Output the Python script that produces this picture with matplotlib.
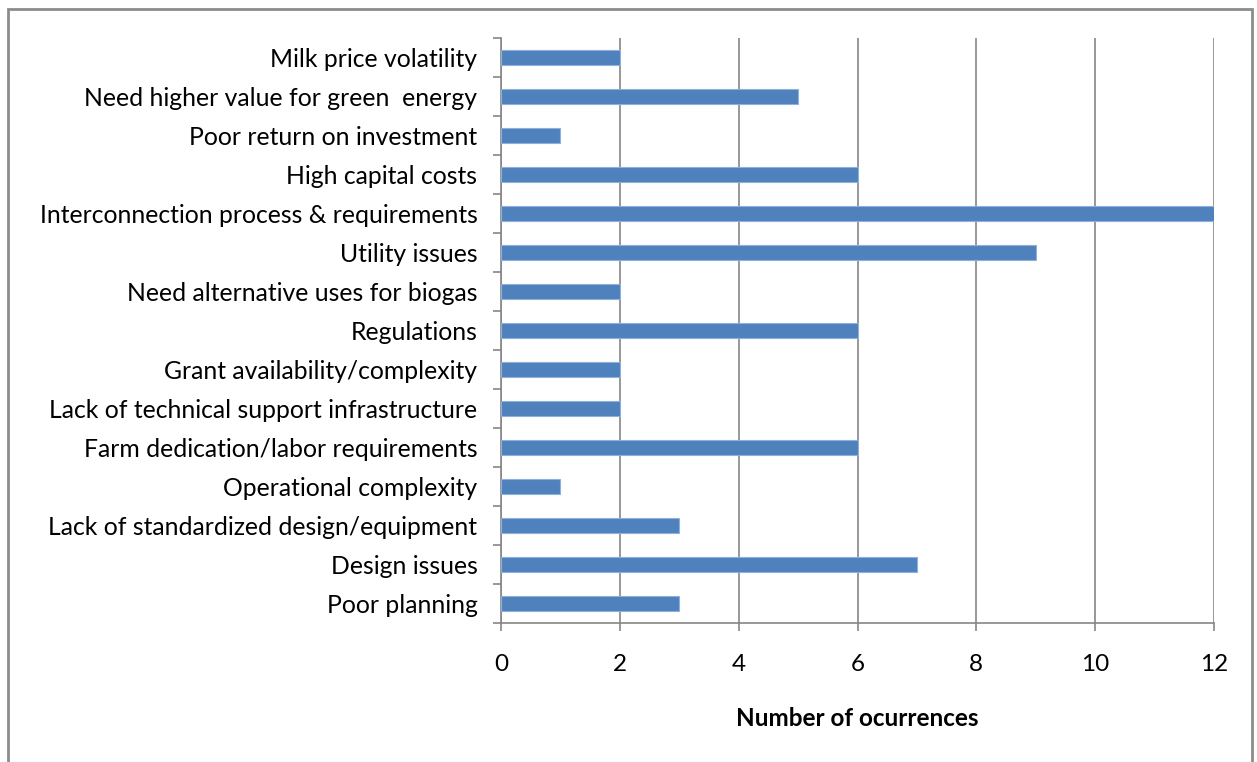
#!/usr/bin/env python3
"""Horizontal bar chart: barriers to digester adoption, number of occurrences."""

import matplotlib

matplotlib.use("Agg")
import matplotlib.pyplot as plt
from matplotlib.patches import Rectangle

# categories listed top to bottom as in the chart
CATEGORIES = [
    "Milk price volatility",
    "Need higher value for green  energy",
    "Poor return on investment",
    "High capital costs",
    "Interconnection process & requirements",
    "Utility issues",
    "Need alternative uses for biogas",
    "Regulations",
    "Grant availability/complexity",
    "Lack of technical support infrastructure",
    "Farm dedication/labor requirements",
    "Operational complexity",
    "Lack of standardized design/equipment",
    "Design issues",
    "Poor planning",
]
OCCURRENCES = [2, 5, 1, 6, 12, 9, 2, 6, 2, 2, 6, 1, 3, 7, 3]
X_TICKS = [0, 2, 4, 6, 8, 10, 12]

BAR_COLOR = "#4F81BD"
EDGE_COLOR = "#8DB0DC"
AXIS_GRAY = "#868686"
FONT = ["Lato", "DejaVu Sans"]
FS = 17.5


def main() -> None:
    plt.rcParams["font.family"] = FONT
    fig = plt.figure(figsize=(12.57, 7.62), dpi=100)
    ax = fig.add_axes([0.3986, 0.1824, 0.5672, 0.7677])

    n = len(CATEGORIES)
    y = list(range(n - 1, -1, -1))
    ax.barh(y, OCCURRENCES, height=0.4, color=BAR_COLOR,
            edgecolor=EDGE_COLOR, linewidth=0.8, zorder=3)

    ax.set_xlim(0, 12)
    ax.set_ylim(-0.5, n - 0.5)
    ax.set_xticks(X_TICKS)
    ax.set_xticklabels([str(t) for t in X_TICKS], fontsize=FS)
    ax.tick_params(axis="x", length=6, width=1.2, color=AXIS_GRAY, pad=16)

    # category labels at centres, tick marks at category boundaries
    ax.set_yticks(y)
    ax.set_yticklabels(CATEGORIES, fontsize=17.8)
    ax.tick_params(axis="y", which="major", length=0, pad=17)
    ax.set_yticks([i - 0.5 for i in range(n + 1)], minor=True)
    ax.tick_params(axis="y", which="minor", length=6, width=1.2, color=AXIS_GRAY)

    ax.grid(axis="x", color=AXIS_GRAY, linewidth=1.2)
    ax.set_axisbelow(True)
    for side in ("top", "right"):
        ax.spines[side].set_visible(False)
    for side in ("left", "bottom"):
        ax.spines[side].set_color(AXIS_GRAY)
        ax.spines[side].set_linewidth(1.2)

    ax.set_xlabel("Number of ocurrences", fontsize=FS, fontweight="bold", labelpad=23)

    # chart-area border (runs past the bottom edge as in the source image)
    frame = Rectangle((8 / 1257, -0.05), 1244 / 1257, 1.05 - 9 / 762,
                      transform=fig.transFigure, fill=False,
                      edgecolor="#8C8C8C", linewidth=2.0, clip_on=False)
    fig.patches.append(frame)

    fig.savefig("out.png", dpi=100, facecolor="white")
    plt.close(fig)


if __name__ == "__main__":
    main()
